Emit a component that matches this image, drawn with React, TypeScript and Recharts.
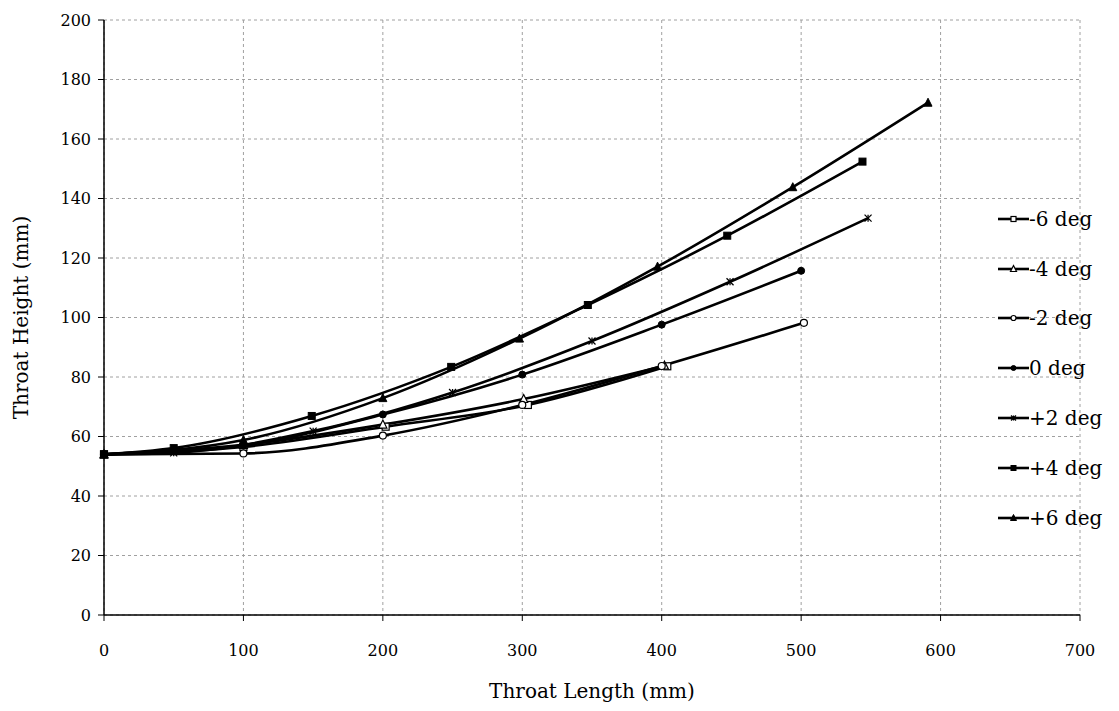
import React from "react";
import { LineChart, Line, XAxis, YAxis, CartesianGrid, Legend } from "recharts";

// [throat length (mm), throat height (mm)]
const m6: number[][] = [[0, 54], [100, 56.5], [202, 63.3], [304, 70.6], [404, 83.6]];
const m4: number[][] = [[0, 54], [100, 57.2], [200, 64], [301, 72.6], [402, 83.8]];
const m2: number[][] = [[0, 54], [100, 54.3], [200, 60.3], [300, 70.6], [400, 83.7], [502, 98.2]];
const z0: number[][] = [[0, 54], [100, 57], [200, 67.4], [300, 80.8], [400, 97.6], [500, 115.7]];
const p2: number[][] = [[0, 54], [50, 54.5], [150, 61.8], [250, 74.8], [350, 92.1], [449, 112], [548, 133.4]];
const p4: number[][] = [[0, 54], [50, 56.1], [149, 66.9], [249, 83.4], [347, 104.2], [447, 127.5], [544, 152.4]];
const p6: number[][] = [[0, 54], [100, 58.8], [200, 72.9], [298, 92.9], [397, 117.1], [494, 143.8], [591, 172.2]];

const seriesNames = ["-6 deg", "-4 deg", "-2 deg", "0 deg", "+2 deg", "+4 deg", "+6 deg"];
const seriesShapes = ["squareOpen", "triangleOpen", "circleOpen", "circle", "asterisk", "square", "triangle"];
const seriesData = [m6, m4, m2, z0, p2, p4, p6];

const xTicks = [0, 100, 200, 300, 400, 500, 600, 700];
const yTicks = [0, 20, 40, 60, 80, 100, 120, 140, 160, 180, 200];

const FONT = "'DejaVu Serif', serif";

function MarkerShape({ shape, cx, cy, s }: { shape: string; cx: number; cy: number; s: number }) {
  const h = s / 2;
  switch (shape) {
    case "squareOpen":
      return <rect x={cx - h} y={cy - h} width={s} height={s} fill="#fff" stroke="#000" strokeWidth={1.2} />;
    case "square":
      return <rect x={cx - h} y={cy - h} width={s} height={s} fill="#000" stroke="#000" strokeWidth={1} />;
    case "triangleOpen":
      return (
        <polygon
          points={`${cx},${cy - h - 1} ${cx + h + 0.5},${cy + h} ${cx - h - 0.5},${cy + h}`}
          fill="#fff"
          stroke="#000"
          strokeWidth={1.2}
        />
      );
    case "triangle":
      return (
        <polygon
          points={`${cx},${cy - h - 1} ${cx + h + 0.5},${cy + h} ${cx - h - 0.5},${cy + h}`}
          fill="#000"
          stroke="#000"
          strokeWidth={1}
        />
      );
    case "circleOpen":
      return <circle cx={cx} cy={cy} r={h} fill="#fff" stroke="#000" strokeWidth={1.2} />;
    case "circle":
      return <circle cx={cx} cy={cy} r={h} fill="#000" stroke="#000" strokeWidth={1} />;
    case "asterisk":
      return (
        <g stroke="#000" strokeWidth={1.3}>
          <line x1={cx - h} y1={cy - h} x2={cx + h} y2={cy + h} />
          <line x1={cx - h} y1={cy + h} x2={cx + h} y2={cy - h} />
          <line x1={cx} y1={cy - h} x2={cx} y2={cy + h} />
        </g>
      );
    default:
      return null;
  }
}

function makeDot(shape: string) {
  return (props: any) => {
    const { cx, cy, index } = props;
    if (cx == null || cy == null) return <g key={`d-${index}`} />;
    return (
      <g key={`d-${shape}-${index}`}>
        <MarkerShape shape={shape} cx={cx} cy={cy} s={7} />
      </g>
    );
  };
}

function LegendContent() {
  return (
    <div style={{ fontFamily: FONT, fontSize: 20, color: "#000" }}>
      {seriesNames.map((name, i) => (
        <div key={name} style={{ height: 49.8, display: "flex", alignItems: "center" }}>
          <svg width={31} height={14} style={{ display: "block" }}>
            <line x1={0} y1={7} x2={31} y2={7} stroke="#000" strokeWidth={2.6} />
            <MarkerShape shape={seriesShapes[i]} cx={15.5} cy={7} s={5} />
          </svg>
          <span style={{ whiteSpace: "nowrap" }}>{name}</span>
        </div>
      ))}
    </div>
  );
}

export default function App() {
  return (
    <div style={{ width: 1103, height: 695, background: "#fff", fontFamily: FONT }}>
      <LineChart
        width={1103}
        height={695}
        margin={{ top: 12, right: 31, bottom: 0, left: 0 }}
        style={{ fontFamily: FONT }}
      >
        <CartesianGrid stroke="#a0a0a0" strokeDasharray="3 3" strokeWidth={1} />
        <XAxis
          type="number"
          dataKey="x"
          domain={[0, 700]}
          ticks={xTicks}
          interval={0}
          height={88}
          allowDuplicatedCategory={false}
          axisLine={{ stroke: "#000", strokeWidth: 1.5 }}
          tickLine={{ stroke: "#000" }}
          tickSize={6}
          tickMargin={24}
          tick={{ fill: "#000", fontSize: 16, fontFamily: FONT }}
          label={{ value: "Throat Length (mm)", position: "insideBottom", offset: 5, fill: "#000", fontSize: 20, fontFamily: FONT }}
        />
        <YAxis
          type="number"
          dataKey="y"
          domain={[0, 200]}
          ticks={yTicks}
          interval={0}
          width={96}
          axisLine={{ stroke: "#000", strokeWidth: 1.5 }}
          tickLine={{ stroke: "#000" }}
          tickSize={6}
          tickMargin={7}
          tick={{ fill: "#000", fontSize: 16, fontFamily: FONT }}
          label={{
            value: "Throat Height (mm)",
            angle: -90,
            position: "insideLeft",
            offset: 13,
            fill: "#000",
            fontSize: 20,
            fontFamily: FONT,
            style: { textAnchor: "middle" },
          }}
        />
        <Legend
          layout="vertical"
          align="center"
          verticalAlign="middle"
          content={() => <LegendContent />}
          wrapperStyle={{ left: 990, top: 186, width: 113 }}
        />
        {seriesData.map((arr, i) => (
          <Line
            key={seriesNames[i]}
            name={seriesNames[i]}
            data={arr.map((p) => ({ x: p[0], y: p[1] }))}
            dataKey="y"
            type="monotone"
            stroke="#000"
            strokeWidth={2.6}
            dot={makeDot(seriesShapes[i])}
            activeDot={false}
            isAnimationActive={false}
          />
        ))}
      </LineChart>
    </div>
  );
}
